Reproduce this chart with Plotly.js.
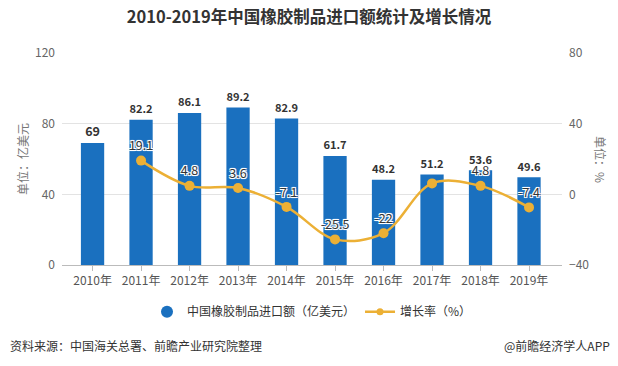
<!DOCTYPE html>
<html>
<head>
<meta charset="utf-8">
<script src="https://cdn.plot.ly/plotly-3.0.1.min.js"></script>
<style>html,body{margin:0;padding:0;background:#fff;}#chart{width:618px;height:366px;}</style>
</head>
<body>
<div id="chart"></div>
<script>
const years = ["2010年","2011年","2012年","2013年","2014年","2015年","2016年","2017年","2018年","2019年"];
const importValues = [69, 82.2, 86.1, 89.2, 82.9, 61.7, 48.2, 51.2, 53.6, 49.6];
const growthRates = [null, 19.1, 4.8, 3.6, -7.1, -25.5, -22, 6.2, 4.8, -7.4];
const growthLabels = ["", "19.1", "4.8", "3.6", "-7.1", "-25.5", "-22", "", "4.8", "-7.4"];

const FONT = '"Noto Sans CJK SC", "Noto Sans", sans-serif';
const BLUE = '#1a70bf';
const ORANGE = '#ecb035';
const halo = 'white 1px 1px 0px, white -1px -1px 0px, white 1px -1px 0px, white -1px 1px 0px, white 0px 1px 1px, white 0px -1px 1px';

const traces = [
  {
    type: 'bar', x: years, y: importValues, name: '中国橡胶制品进口额（亿美元）',
    marker: {color: BLUE}, width: 0.48,
    text: importValues.map(String), textposition: 'outside', cliponaxis: false,
    textfont: {family: FONT, size: 12.5, color: '#333', weight: 'bold'},
    showlegend: false, hoverinfo: 'skip'
  },
  {
    type: 'scatter', mode: 'lines+markers+text', x: years, y: growthRates, yaxis: 'y2',
    name: '增长率（%）',
    line: {color: ORANGE, width: 2.5, shape: 'spline', smoothing: 1},
    marker: {color: ORANGE, size: 10},
    text: growthLabels, textposition: 'top center', cliponaxis: false,
    textfont: {family: FONT, size: 12.5, color: '#333', shadow: halo},
    showlegend: false, connectgaps: false
  },
  {
    type: 'scatter', mode: 'markers', x: [null], y: [null],
    name: '中国橡胶制品进口额（亿美元）', marker: {color: BLUE, size: 12, symbol: 'circle'},
    showlegend: true
  },
  {
    type: 'scatter', mode: 'lines+markers', x: [null], y: [null], yaxis: 'y2',
    name: '增长率（%）', line: {color: ORANGE, width: 2.5}, marker: {color: ORANGE, size: 7},
    showlegend: true
  }
];

const layout = {
  width: 618, height: 366,
  margin: {l: 62, r: 56, t: 53, b: 101},
  paper_bgcolor: '#fff', plot_bgcolor: '#fff',
  font: {family: FONT, size: 12, color: '#555'},
  title: {text: '2010-2019年中国橡胶制品进口额统计及增长情况', x: 0.5, xanchor: 'center', y: 0.952, yanchor: 'middle',
          font: {family: FONT, size: 16.5, color: '#333', weight: 'bold'}},
  xaxis: {
    type: 'category', range: [-0.63, 9.68],
    showline: true, linecolor: '#bbb', linewidth: 1,
    ticks: 'outside', ticklen: 5, tickcolor: '#bbb',
    tickfont: {family: FONT, size: 12, color: '#555'},
    showgrid: false, zeroline: false, fixedrange: true
  },
  yaxis: {
    range: [0, 120], tickvals: [0, 40, 80, 120],
    showgrid: true, gridcolor: '#e3e3e3', gridwidth: 1,
    zeroline: false, showline: false,
    tickfont: {family: FONT, size: 12, color: '#666'}, ticklabelstandoff: 6
  },
  yaxis2: {
    overlaying: 'y', side: 'right', range: [-40, 80], tickvals: [-40, 0, 40, 80],
    showgrid: false, zeroline: false, showline: false,
    tickfont: {family: FONT, size: 12, color: '#666'}, ticklabelstandoff: 6
  },
  showlegend: true,
  legend: {orientation: 'h', x: 0.5, xanchor: 'center', y: -0.22, yanchor: 'middle',
           font: {family: FONT, size: 12, color: '#333'}, itemwidth: 30, tracegroupgap: 0,
           traceorder: 'normal'},
  annotations: [
    {text: '单位：亿美元', xref: 'paper', yref: 'paper', x: -0.08, xanchor: 'center', y: 0.5, yanchor: 'middle',
     textangle: -90, showarrow: false, font: {family: FONT, size: 12, color: '#777'}},
    {text: '单位：%', xref: 'paper', yref: 'paper', x: 1.078, xanchor: 'center', y: 0.5, yanchor: 'middle',
     textangle: 90, showarrow: false, font: {family: FONT, size: 12, color: '#777'}},
    {text: '资料来源：中国海关总署、前瞻产业研究院整理', xref: 'paper', yref: 'paper', x: -0.108, xanchor: 'left',
     y: -0.38, yanchor: 'middle', showarrow: false, font: {family: FONT, size: 12, color: '#333'}},
    {text: '@前瞻经济学人APP', xref: 'paper', yref: 'paper', x: 1.1, xanchor: 'right',
     y: -0.38, yanchor: 'middle', showarrow: false, font: {family: FONT, size: 12, color: '#333'}}
  ]
};

Plotly.newPlot('chart', traces, layout, {displayModeBar: false, staticPlot: true});
</script>
</body>
</html>
